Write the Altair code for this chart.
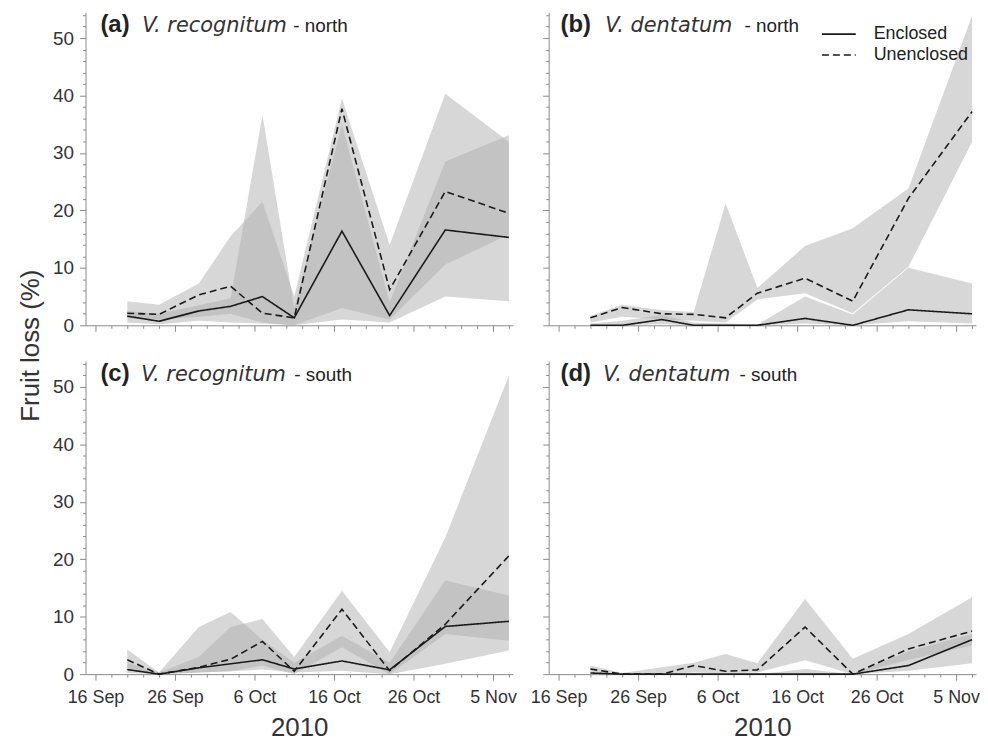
import altair as alt
import pandas as pd

# ---- data ----
dates = ["2010-09-20", "2010-09-24", "2010-09-29", "2010-10-03", "2010-10-07",
         "2010-10-11", "2010-10-17", "2010-10-23", "2010-10-30", "2010-11-07"]

# (a) V. recognitum - north
a_enc = [1.6, 0.7, 2.5, 3.3, 5.0, 1.3, 16.4, 1.7, 16.6, 15.3]
a_enc_lo = [0.5, 0.2, 0.8, 0.5, 0.3, 0.0, 1.0, 0.5, 5.0, 4.2]
a_enc_hi = [2.5, 2.0, 3.5, 4.7, 36.6, 3.0, 35.0, 4.0, 28.5, 33.1]
a_unc = [2.1, 1.9, 5.3, 6.8, 2.1, 1.3, 37.7, 6.2, 23.3, 19.5]
a_unc_lo = [1.2, 1.0, 1.5, 2.0, 0.5, 0.0, 3.0, 1.0, 10.6, 15.8]
a_unc_hi = [4.2, 3.6, 7.3, 15.5, 21.5, 5.0, 39.5, 14.0, 40.3, 31.9]

# (b) V. dentatum - north
b_enc = [0.0, 0.0, 1.0, 0.0, 0.0, 0.0, 1.2, 0.0, 2.7, 2.0]
b_enc_lo = [0.0, 0.0, 0.2, 0.0, 0.0, 0.0, 0.3, 0.0, 0.7, 0.3]
b_enc_hi = [0.3, 0.8, 1.8, 0.5, 0.3, 0.1, 5.0, 1.9, 10.0, 7.3]
b_unc = [1.3, 3.1, 2.0, 1.9, 1.3, 5.6, 8.2, 4.2, 22.1, 37.2]
b_unc_lo = [0.5, 1.5, 1.0, 0.8, 0.5, 4.5, 5.6, 2.1, 10.2, 31.9]
b_unc_hi = [1.6, 3.6, 2.6, 2.3, 21.2, 6.5, 13.8, 16.9, 23.8, 53.9]

# (c) V. recognitum - south
c_enc = [0.8, 0.0, 1.1, 1.8, 2.5, 0.9, 2.3, 0.75, 8.3, 9.2]
c_enc_lo = [0.2, 0.0, 0.3, 0.5, 0.8, 0.3, 0.6, 0.0, 1.8, 4.1]
c_enc_hi = [2.0, 0.3, 8.2, 10.8, 6.0, 2.0, 6.7, 2.0, 16.3, 13.7]
c_unc = [2.5, 0.0, 1.2, 2.6, 5.7, 0.5, 11.3, 0.6, 8.7, 20.6]
c_unc_lo = [1.0, 0.0, 0.3, 0.5, 1.5, 0.0, 4.7, 0.0, 7.0, 5.8]
c_unc_hi = [4.3, 0.3, 3.0, 8.2, 9.6, 3.0, 14.5, 3.8, 23.8, 52.0]

# (d) V. dentatum - south
d_enc = [0.2, 0.0, 0.0, 0.0, 0.0, 0.0, 0.0, 0.0, 1.5, 6.0]
d_enc_lo = [0.0, 0.0, 0.0, 0.0, 0.0, 0.0, 0.0, 0.0, 0.6, 1.9]
d_enc_hi = [0.3, 0.0, 0.0, 0.0, 0.0, 0.0, 0.9, 0.0, 4.0, 7.0]
d_unc = [0.9, 0.0, 0.0, 1.5, 0.5, 0.75, 8.2, 0.0, 4.4, 7.5]
d_unc_lo = [0.3, 0.0, 0.0, 0.3, 0.1, 0.3, 2.4, 0.0, 2.5, 5.0]
d_unc_hi = [1.5, 0.2, 1.2, 2.0, 3.5, 1.9, 13.1, 2.7, 7.0, 13.4]

series_names = ["Enclosed", "Unenclosed"]
ref_day = pd.Timestamp("2010-09-16")
day_num = [(pd.Timestamp(d) - ref_day).days for d in dates]

W, H = 430, 315
YMAX = 54.5
FONT = "Liberation Sans"
AXC = "#8a8a8a"


def make_df(enc, enc_lo, enc_hi, unc, unc_lo, unc_hi):
    rows = []
    for s, m, lo, hi in [(series_names[0], enc, enc_lo, enc_hi),
                         (series_names[1], unc, unc_lo, unc_hi)]:
        for dn, v, l, h in zip(day_num, m, lo, hi):
            rows.append({"day": dn, "series": s, "mean": v, "lo": l, "hi": h})
    return pd.DataFrame(rows)


def panel(df, tag, species, region, tag_x, sp_x, reg_x, x_labels, y_labels,
          legend=False):
    major = "datum.value % 10 === 0"
    tick_cond = {"condition": {"test": major, "value": 6}, "value": 3}
    xaxis = alt.Axis(
        values=list(range(0, 53, 2)), grid=False, domainColor=AXC,
        tickColor=AXC, tickSize=tick_cond, labels=x_labels,
        labelExpr=major + " ? timeFormat(datetime(2010, 8, 16 + datum.value), '%-d %b') : ''",
        labelFont=FONT,
        labelFontSize={"condition": {"test": major, "value": 18}, "value": 0},
        labelColor="#333333", labelPadding=9, labelFlush=False,
        labelOverlap=False, labelBound=False,
        title="2010" if x_labels else None, titleFont=FONT,
        titleFontSize=26, titleFontWeight="normal", titleColor="#333333",
        titlePadding=8)
    yaxis = alt.Axis(
        values=list(range(0, 55, 2)), grid=False, domainColor=AXC,
        tickColor=AXC, tickSize=tick_cond, labels=y_labels,
        labelExpr=major + " ? datum.label : ''",
        labelFont=FONT,
        labelFontSize={"condition": {"test": major, "value": 19}, "value": 0},
        labelColor="#333333",
        labelPadding=6, labelOverlap=False, labelBound=False, labelFlush=False,
        title="Fruit loss (%)" if tag == "(a)" else None,
        titleFont=FONT, titleFontSize=26, titleFontWeight="normal",
        titleColor="#333333", titleX=-55, titleY=335,
        titleBaseline="middle", titleAlign="center", titleAngle=270)
    xs = alt.Scale(domain=[-1.25, 52.5], nice=False, zero=False)
    ys = alt.Scale(domain=[0, YMAX], nice=False)
    x = alt.X("day:Q", scale=xs, axis=xaxis)
    base = alt.Chart(df)
    bands = base.mark_area(color="#b0b0b0", opacity=0.5, interpolate="linear").encode(
        x=x, y=alt.Y("lo:Q", scale=ys, axis=yaxis), y2="hi:Q", detail="series:N")
    lines = base.mark_line(color="#1a1a1a", strokeWidth=1.6).encode(
        x=x, y=alt.Y("mean:Q", scale=ys, axis=yaxis),
        strokeDash=alt.StrokeDash("series:N", scale=alt.Scale(
            domain=series_names, range=[[1, 0], [7, 4]]), legend=None),
        detail="series:N")
    t1 = alt.Chart(pd.DataFrame({"t": [tag]})).mark_text(
        font=FONT, fontSize=24, fontWeight="bold", align="left",
        baseline="alphabetic", color="#222222").encode(
        text="t:N", x=alt.value(tag_x), y=alt.value(20))
    t2 = alt.Chart(pd.DataFrame({"t": [species]})).mark_text(
        font="DejaVu Sans", fontSize=21, fontStyle="italic", align="left",
        baseline="alphabetic", color="#333333").encode(
        text="t:N", x=alt.value(sp_x), y=alt.value(20))
    t3 = alt.Chart(pd.DataFrame({"t": [region]})).mark_text(
        font=FONT, fontSize=19, align="left", baseline="alphabetic",
        color="#222222").encode(
        text="t:N", x=alt.value(reg_x), y=alt.value(20))
    layers = [bands, lines, t1, t2, t3]
    if legend:
        r1 = alt.Chart(pd.DataFrame({"s": [series_names[0]]})).mark_rule(
            color="#1a1a1a", strokeWidth=1.6).encode(
            x=alt.value(275), x2=alt.value(309), y=alt.value(22))
        r2 = alt.Chart(pd.DataFrame({"s": [series_names[1]]})).mark_rule(
            color="#1a1a1a", strokeWidth=1.6, strokeDash=[7, 4]).encode(
            x=alt.value(275), x2=alt.value(309), y=alt.value(43))
        l1 = alt.Chart(pd.DataFrame({"s": [series_names[0]]})).mark_text(
            font=FONT, fontSize=18, align="left", baseline="middle",
            color="#222222").encode(text="s:N", x=alt.value(327), y=alt.value(22))
        l2 = alt.Chart(pd.DataFrame({"s": [series_names[1]]})).mark_text(
            font=FONT, fontSize=18, align="left", baseline="middle",
            color="#222222").encode(text="s:N", x=alt.value(327), y=alt.value(43))
        layers += [r1, r2, l1, l2]
    return alt.layer(*layers).properties(width=W, height=H)


pa = panel(make_df(a_enc, a_enc_lo, a_enc_hi, a_unc, a_unc_lo, a_unc_hi),
           "(a)", "V. recognitum", "- north", 15, 57, 209, False, True)
pb = panel(make_df(b_enc, b_enc_lo, b_enc_hi, b_unc, b_unc_lo, b_unc_hi),
           "(b)", "V. dentatum", "- north", 12, 57, 197, False, False,
           legend=True)
pc = panel(make_df(c_enc, c_enc_lo, c_enc_hi, c_unc, c_unc_lo, c_unc_hi),
           "(c)", "V. recognitum", "- south", 15, 56, 210, True, True)
pd_ = panel(make_df(d_enc, d_enc_lo, d_enc_hi, d_unc, d_unc_lo, d_unc_hi),
            "(d)", "V. dentatum", "- south", 12, 55, 192, True, False)

chart = alt.concat(pa, pb, pc, pd_, columns=2, spacing=36, bounds="flush").properties(
    padding={"left": 10, "top": 2, "right": 0, "bottom": 0}
).configure_view(stroke=None).configure_concat(spacing=36)

chart.save("out.html", embed_options={"renderer": "svg", "actions": False})
